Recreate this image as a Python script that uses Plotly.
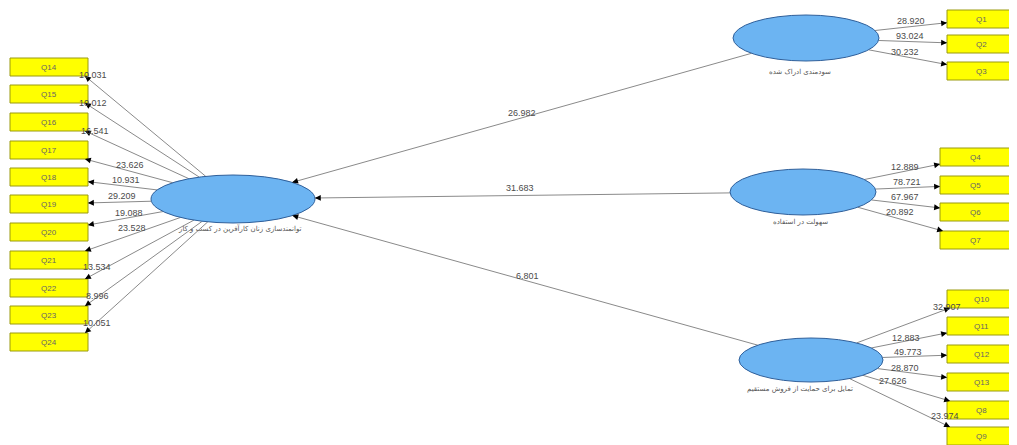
import plotly.graph_objects as go
import math

# ---------------- data ----------------
constructs = ["توانمندسازی زنان کارآفرین در کسب و کار",
              "سودمندی ادراک شده",
              "سهولت در استفاده",
              "تمایل برای حمایت از فروش مستقیم"]
path_values = ["26.982", "31.683", "6.801"]   # from constructs 1..3 to construct 0

ind_central = ["Q14", "Q15", "Q16", "Q17", "Q18", "Q19", "Q20", "Q21", "Q22", "Q23", "Q24"]
t_central = ["10.031", "10.012", "16.541", "23.626", "10.931", "29.209", "19.088",
             "23.528", "13.534", "8.996", "10.051"]
ind_pu = ["Q1", "Q2", "Q3"]
t_pu = ["28.920", "93.024", "30.232"]
ind_peou = ["Q4", "Q5", "Q6", "Q7"]
t_peou = ["12.889", "78.721", "67.967", "20.892"]
ind_int = ["Q10", "Q11", "Q12", "Q13", "Q8", "Q9"]
t_int = ["32.907", "12.883", "49.773", "28.870", "27.626", "23.974"]

# ---------------- layout (pixel positions) ----------------
ell = [(233, 199, 82, 24), (806, 38, 73, 23), (803, 192, 73, 23), (811, 360, 72, 22)]
ell_label_xy = [(240, 228), (800, 72), (800, 222), (800, 389)]
path_label_xy = [(522, 113), (520, 188), (527, 276)]

box_h = 18
left_box = dict(x0=10, x1=88, yc=[67, 94, 122, 150, 177, 204, 232, 260, 288, 315, 342])
pu_box = dict(x0=947, x1=1015, yc=[19, 44, 71])
peou_box = dict(x0=940, x1=1010, yc=[157, 185, 212, 240])
int_box = dict(x0=947, x1=1016, yc=[299, 326, 354, 382, 410, 436])

lab_central = [(93, 75), (93, 103), (95, 131), (130, 165), (126, 180), (122, 196),
               (129, 213), (132, 228), (97, 267), (97, 296), (97, 323)]
lab_pu = [(911, 21), (910, 36), (905, 52)]
lab_peou = [(905, 167), (907, 182), (905, 197), (900, 212)]
lab_int = [(947, 307), (906, 338), (908, 352), (905, 368), (893, 381), (945, 416)]

LINE = "#8a8a8a"
TXT = "#4a4a4a"
FONT = "Liberation Sans, Arial, sans-serif"
ELL_FILL = "#6cb4f2"
ELL_LINE = "#2f5f9a"

# the page body has an 8px margin; the axes are set so data units equal page pixels
PAGE_OFF = 8
W, H = 1017, 445

fig = go.Figure()
shapes = []
annotations = []


def ellipse_point(e, tx, ty):
    cx, cy, rx, ry = e
    dx, dy = tx - cx, ty - cy
    t = 1.0 / math.sqrt((dx / rx) ** 2 + (dy / ry) ** 2)
    return cx + dx * t, cy + dy * t


def add_line(p0, p1):
    fig.add_trace(go.Scatter(x=[p0[0], p1[0]], y=[p0[1], p1[1]], mode="lines",
                             line=dict(color=LINE, width=1), hoverinfo="skip",
                             showlegend=False, cliponaxis=False))


def add_head(p0, p1):
    dx, dy = p1[0] - p0[0], p1[1] - p0[1]
    L = math.hypot(dx, dy)
    ax, ay = p1[0] - dx / L * 5, p1[1] - dy / L * 5
    annotations.append(dict(x=p1[0], y=p1[1], ax=ax, ay=ay, xref="x", yref="y",
                            axref="x", ayref="y", text="", showarrow=True,
                            arrowhead=2, arrowsize=0.9, arrowwidth=1.3,
                            arrowcolor="black", standoff=0))


def add_text(xy, s, size=9, color=TXT):
    annotations.append(dict(x=xy[0], y=xy[1], text=s, showarrow=False, xref="x", yref="y",
                            font=dict(size=size, color=color, family=FONT)))


def indicator_block(e, box, names, vals, labs, side):
    cx, cy = e[0], e[1]
    for name, v, yc, lab in zip(names, vals, box["yc"], labs):
        bx = (box["x0"] + box["x1"]) / 2
        y0, y1 = yc - box_h / 2, yc + box_h / 2
        edge = box["x1"] if side == "left" else box["x0"]
        yy = cy + (edge - cx) * (yc - cy) / (bx - cx)
        ex = edge
        if yy < y0:
            yy = y0
            ex = edge - 3 if side == "left" else edge + 3
        elif yy > y1:
            yy = y1
            ex = edge - 3 if side == "left" else edge + 3
        end = (ex, yy)
        start = ellipse_point(e, ex, yy)
        add_line(start, end)
        add_head(start, end)
        shapes.append(dict(type="rect", xref="x", yref="y", x0=box["x0"], x1=box["x1"],
                           y0=y0, y1=y1, fillcolor="#ffff00",
                           line=dict(color="#9a9a10", width=1), layer="above"))
        add_text((bx, yc), name, size=8, color="#666666")
        add_text(lab, v, size=9)


indicator_block(ell[0], left_box, ind_central, t_central, lab_central, "left")
indicator_block(ell[1], pu_box, ind_pu, t_pu, lab_pu, "right")
indicator_block(ell[2], peou_box, ind_peou, t_peou, lab_peou, "right")
indicator_block(ell[3], int_box, ind_int, t_int, lab_int, "right")

# structural paths
for i in range(3):
    src = ell[i + 1]
    p0 = ellipse_point(src, ell[0][0], ell[0][1])
    p1 = ellipse_point(ell[0], src[0], src[1])
    add_line(p0, p1)
    add_head(p0, p1)
    add_text(path_label_xy[i], path_values[i], size=9)

# ellipses
for e, name, lxy in zip(ell, constructs, ell_label_xy):
    cx, cy, rx, ry = e
    shapes.append(dict(type="circle", xref="x", yref="y", x0=cx - rx, x1=cx + rx,
                       y0=cy - ry, y1=cy + ry, fillcolor=ELL_FILL,
                       line=dict(color=ELL_LINE, width=1), layer="above"))
    annotations.append(dict(x=lxy[0], y=lxy[1], text=name, showarrow=False, xref="x",
                            yref="y", font=dict(size=7, color="#555555",
                                                family="DejaVu Sans")))

fig.update_layout(
    width=W - PAGE_OFF, height=H - PAGE_OFF,
    margin=dict(l=0, r=0, t=0, b=0, pad=0, autoexpand=False),
    paper_bgcolor="white", plot_bgcolor="white",
    xaxis=dict(range=[PAGE_OFF, W], visible=False, fixedrange=True),
    yaxis=dict(range=[H, PAGE_OFF], visible=False, fixedrange=True),
    shapes=shapes, annotations=annotations, showlegend=False,
)

fig.write_html("out.html")
